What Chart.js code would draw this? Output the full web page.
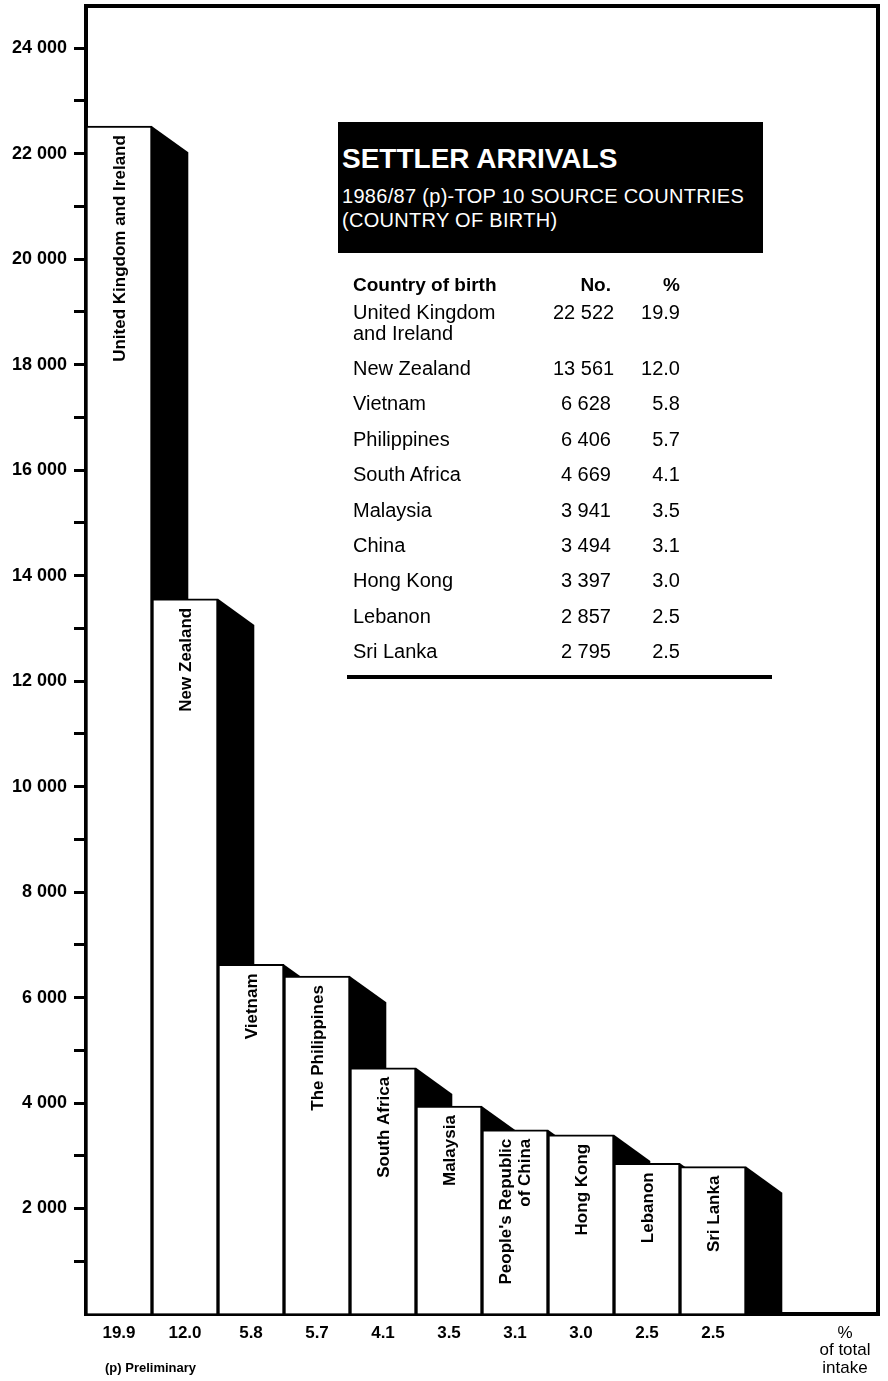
<!DOCTYPE html>
<html>
<head>
<meta charset="utf-8">
<title>Settler arrivals 1986/87</title>
<script src="https://cdn.jsdelivr.net/npm/chart.js"></script>
<style>
body{margin:0;background:#fff;font-family:"Liberation Sans",Arial,sans-serif;color:#000}
#wrap{position:relative;width:888px;height:1381px;overflow:hidden}
#settlers{position:absolute;left:0;top:0}
#titlebox{position:absolute;left:338px;top:122px;width:425px;height:131px;background:#000;color:#fff}
#titlebox div{position:absolute;left:4px;white-space:nowrap;line-height:1}
#title{top:23px;font-size:28px;font-weight:bold}
#sub1{top:64px;font-size:20px;letter-spacing:0.3px}
#sub2{top:88px;font-size:20px;letter-spacing:0.3px}
#tbl{position:absolute;left:353px;top:274px}
.row{display:flex;align-items:flex-start;font-size:20px;line-height:21px;margin-bottom:14.4px;white-space:nowrap}
.head{font-weight:bold;font-size:19px;margin-bottom:6.6px}
.nm{width:200px}
.no{width:58px;text-align:right}
.pc{width:69px;text-align:right}
#rule{position:absolute;left:347px;top:675px;width:425px;height:4px;background:#000}
#note{position:absolute;left:105px;top:1361px;font-size:13px;font-weight:bold;line-height:1}
</style>
</head>
<body>
<div id="wrap">
  <canvas id="settlers" width="888" height="1381"></canvas>
  <div id="titlebox">
    <div id="title">SETTLER ARRIVALS</div>
    <div id="sub1">1986/87 (p)-TOP 10 SOURCE COUNTRIES</div>
    <div id="sub2">(COUNTRY OF BIRTH)</div>
  </div>
  <div id="tbl"></div>
  <div id="rule"></div>
  <div id="note">(p) Preliminary</div>
</div>
<script>
// settler arrivals 1986/87 (p), top 10 source countries
var countries=["United Kingdom and Ireland","New Zealand","Vietnam","The Philippines","South Africa","Malaysia","People's Republic of China","Hong Kong","Lebanon","Sri Lanka"];
var barLabels=[["United Kingdom and Ireland"],["New Zealand"],["Vietnam"],["The Philippines"],["South Africa"],["Malaysia"],["People's Republic","of China"],["Hong Kong"],["Lebanon"],["Sri Lanka"]];
var tableNames=[["United Kingdom","and Ireland"],["New Zealand"],["Vietnam"],["Philippines"],["South Africa"],["Malaysia"],["China"],["Hong Kong"],["Lebanon"],["Sri Lanka"]];
var arrivals=[22522,13561,6628,6406,4669,3941,3494,3397,2857,2795];
var shares=[19.9,12.0,5.8,5.7,4.1,3.5,3.1,3.0,2.5,2.5];
var shareTitle=["%","of total","intake"];
var yMax=24800;
var yTicks=[0,1000,2000,3000,4000,5000,6000,7000,8000,9000,10000,11000,12000,13000,14000,15000,16000,17000,18000,19000,20000,21000,22000,23000,24000];
var yLabelStep=2000;

function spaced(n){
    return String(n).replace(/\B(?=(\d{3})+(?!\d))/g," ");
}

// table on the right
var html='<div class="row head"><span class="nm">Country of birth</span><span class="no">No.</span><span class="pc">%</span></div>';
for (var i=0;i<tableNames.length;i++){
    html+='<div class="row"><span class="nm">'+tableNames[i].join("<br>")+'</span><span class="no">'+spaced(arrivals[i])+'</span><span class="pc">'+shares[i].toFixed(1)+'</span></div>';
}
document.getElementById("tbl").innerHTML=html;

// two empty slots on the right: one for the last shadow, one for the "% of total intake" label
var labels=countries.concat(["",""]);
var values=arrivals.concat([null,null]);

// black "depth" behind every bar
var shadows={
    id:"shadows",
    beforeDatasetsDraw:function(chart){
        var c=chart.ctx;
        var bars=chart.getDatasetMeta(0).data;
        c.save();
        c.fillStyle="#000";
        for (var i=0;i<arrivals.length;i++){
            var b=bars[i];
            var xr=b.x+b.width/2;
            var dx=b.width*0.55;
            var dy=dx*0.72;
            c.beginPath();
            c.moveTo(xr,b.y);
            c.lineTo(xr+dx,b.y+dy);
            c.lineTo(xr+dx,b.base);
            c.lineTo(xr,b.base);
            c.closePath();
            c.fill();
        }
        c.restore();
    }
};

// country names written up inside the bars
var barNames={
    id:"barNames",
    afterDatasetsDraw:function(chart){
        var c=chart.ctx;
        var bars=chart.getDatasetMeta(0).data;
        c.save();
        c.fillStyle="#000";
        c.font='bold 17px "Liberation Sans", Arial, sans-serif';
        c.textAlign="right";
        c.textBaseline="middle";
        for (var i=0;i<barLabels.length;i++){
            var b=bars[i];
            var lines=barLabels[i];
            var lh=19;
            c.save();
            c.translate(b.x+1,b.y+9);
            c.rotate(-Math.PI/2);
            for (var j=0;j<lines.length;j++){
                c.fillText(lines[j],0,(j-(lines.length-1)/2)*lh);
            }
            c.restore();
        }
        c.restore();
    }
};

// top and right edge of the frame
var frame={
    id:"frame",
    afterDraw:function(chart){
        var c=chart.ctx;
        var a=chart.chartArea;
        c.save();
        c.strokeStyle="#000";
        c.lineWidth=4;
        c.lineCap="square";
        c.beginPath();
        c.moveTo(a.left,a.top);
        c.lineTo(a.right,a.top);
        c.lineTo(a.right,a.bottom);
        c.stroke();
        c.restore();
    }
};

Chart.defaults.font.family='"Liberation Sans", Arial, sans-serif';
Chart.defaults.color="#000";

var ctx=document.getElementById("settlers");
var chart=new Chart(ctx,{
    type:"bar",
    data:{
        labels:labels,
        datasets:[{
            label:"Settler arrivals",
            data:values,
            backgroundColor:"#fff",
            borderColor:"#000",
            borderWidth:2,
            borderSkipped:"bottom",
            barPercentage:1,
            categoryPercentage:1
        }]
    },
    options:{
        responsive:false,
        animation:false,
        devicePixelRatio:1,
        layout:{padding:{top:6,right:10,left:0,bottom:0}},
        plugins:{legend:{display:false},tooltip:{enabled:false}},
        scales:{
            x:{
                z:1,
                grid:{display:false,drawTicks:false},
                border:{display:true,color:"#000",width:4},
                ticks:{
                    padding:10,
                    autoSkip:false,
                    maxRotation:0,
                    color:"#000",
                    font:function(c){
                        if (c.index===shares.length+1) return {size:17,weight:"normal",lineHeight:1.05};
                        return {size:17,weight:"bold",lineHeight:1.1};
                    },
                    callback:function(v,i){
                        if (i<shares.length) return shares[i].toFixed(1);
                        if (i===shares.length+1) return shareTitle;
                        return "";
                    }
                },
                afterFit:function(s){s.height=67;s.paddingLeft=0;s.paddingRight=0;}
            },
            y:{
                z:1,
                min:0,
                max:yMax,
                bounds:"data",
                grid:{
                    drawOnChartArea:false,
                    drawTicks:true,
                    tickLength:12,
                    tickWidth:3,
                    tickColor:function(c){return c.tick && c.tick.value===0?"rgba(0,0,0,0)":"#000";}
                },
                border:{display:true,color:"#000",width:4},
                ticks:{
                    autoSkip:false,
                    padding:7,
                    color:"#000",
                    font:{size:18,weight:"bold"},
                    callback:function(v){
                        if (v>0 && v%yLabelStep===0) return spaced(v);
                        return "";
                    }
                },
                afterBuildTicks:function(s){
                    s.ticks=yTicks.map(function(v){return {value:v};});
                },
                afterFit:function(s){s.width=86;s.paddingTop=0;s.paddingBottom=0;}
            }
        }
    },
    plugins:[shadows,barNames,frame]
});
</script>
</body>
</html>
